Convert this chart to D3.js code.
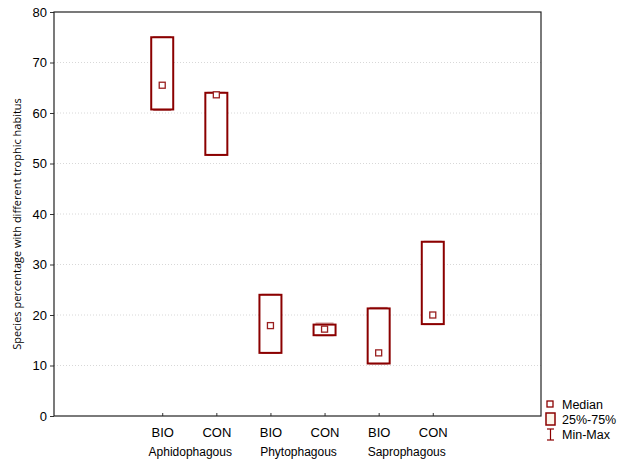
<!DOCTYPE html>
<html>
<head>
<meta charset="utf-8">
<script src="https://cdnjs.cloudflare.com/ajax/libs/d3/7.8.5/d3.min.js"></script>
<style>
  body { margin: 0; background: #fff; }
  svg { font-family: Arial, "Liberation Sans", sans-serif; }
</style>
</head>
<body>
<div id="chart"></div>
<script>
// data
const groups = ['Aphidophagous', 'Phytophagous', 'Saprophagous'];
const treatments = ['BIO', 'CON'];
const medians = [65.5, 63.6, 17.9, 17.2, 12.5, 20.0];
const q1 = [60.7, 51.7, 12.5, 16.0, 10.4, 18.2];
const q3 = [75.0, 64.0, 24.0, 18.1, 21.3, 34.5];
const mins = [60.5, 51.6, 12.4, 15.9, 10.3, 18.1];
const maxs = [75.1, 64.1, 24.1, 18.4, 21.5, 34.6];
const yTicks = [0, 10, 20, 30, 40, 50, 60, 70, 80];

const W = 628, H = 462;
const margin = { top: 12, right: 87, bottom: 46, left: 54 };
const width = W - margin.left - margin.right,
      height = H - margin.top - margin.bottom;

const dark = '#8b0000';

const svg = d3.select('#chart').append('svg')
    .attr('width', W).attr('height', H)
    .append('g')
    .attr('transform', 'translate(' + margin.left + ',' + margin.top + ')');

// 9 slots, the six boxes sit on slots 2..7
const x = d3.scaleLinear().domain([0, 9]).range([0, width]);
const y = d3.scaleLinear().domain([0, 80]).range([height, 0]);

const rows = [];
groups.forEach(function(g, gi) {
    treatments.forEach(function(t, ti) {
        const i = gi * 2 + ti;
        rows.push({ group: g, trt: t, pos: 2 + i, med: medians[i], lo: q1[i], hi: q3[i], min: mins[i], max: maxs[i] });
    });
});

// grid
svg.append('g')
    .selectAll('line')
    .data(yTicks.slice(1, -1))
    .join('line')
    .attr('x1', 0).attr('x2', width)
    .attr('y1', d => y(d)).attr('y2', d => y(d))
    .attr('stroke', '#d8d8d8')
    .attr('stroke-width', 1)
    .attr('stroke-dasharray', '1,2');

// y axis
const yAxis = svg.append('g')
    .call(d3.axisLeft(y).tickValues(yTicks).tickSize(4).tickPadding(3));
yAxis.select('.domain').remove();
yAxis.selectAll('text').style('font-size', '13px').style('font-family', 'Arial, "Liberation Sans", sans-serif').attr('fill', '#000');
yAxis.selectAll('line').attr('stroke', '#333');

// x axis, ticks inside
const xAxis = svg.append('g')
    .attr('transform', 'translate(0,' + height + ')')
    .call(d3.axisBottom(x).tickValues(rows.map(d => d.pos)).tickSize(-3).tickPadding(12)
        .tickFormat((d, i) => rows[i].trt));
xAxis.select('.domain').remove();
xAxis.selectAll('text').style('font-size', '13px').style('font-family', 'Arial, "Liberation Sans", sans-serif').attr('fill', '#000');
xAxis.selectAll('line').attr('stroke', '#333');

// group labels
svg.append('g')
    .selectAll('text')
    .data(groups)
    .join('text')
    .attr('x', (d, i) => x(2.5 + i * 2) + 1)
    .attr('y', height + 40)
    .attr('text-anchor', 'middle')
    .style('font-size', '12px')
    .text(d => d);

// frame
svg.append('rect')
    .attr('x', 0).attr('y', 0)
    .attr('width', width).attr('height', height)
    .attr('fill', 'none')
    .attr('stroke', '#222')
    .attr('stroke-width', 1.2);

// y title
svg.append('text')
    .attr('transform', 'translate(' + (-33) + ',' + (height / 2 + 10) + ') rotate(-90)')
    .attr('text-anchor', 'middle')
    .style('font-family', '"Open Sans", "DejaVu Sans", sans-serif')
    .style('font-size', '11px')
    .text('Species percentage with different trophic habitus');

const bw = 22;
const boxes = svg.append('g').selectAll('g').data(rows).join('g');

// min-max whiskers (almost coincide with the box)
boxes.append('line')
    .attr('x1', d => x(d.pos) - bw / 2 + 2).attr('x2', d => x(d.pos) + bw / 2 - 2)
    .attr('y1', d => y(d.max)).attr('y2', d => y(d.max))
    .attr('stroke', '#c08080').attr('stroke-width', 1);
boxes.append('line')
    .attr('x1', d => x(d.pos) - bw / 2 + 2).attr('x2', d => x(d.pos) + bw / 2 - 2)
    .attr('y1', d => y(d.min)).attr('y2', d => y(d.min))
    .attr('stroke', '#c08080').attr('stroke-width', 1);

// 25%-75% box
boxes.append('rect')
    .attr('x', d => x(d.pos) - bw / 2)
    .attr('y', d => y(d.hi))
    .attr('width', bw)
    .attr('height', d => y(d.lo) - y(d.hi))
    .attr('fill', '#fff')
    .attr('stroke', dark)
    .attr('stroke-width', 2);

// median
boxes.append('rect')
    .attr('x', d => x(d.pos) - 3)
    .attr('y', d => y(d.med) - 3)
    .attr('width', 6).attr('height', 6)
    .attr('fill', '#fff')
    .attr('stroke', '#9a2020')
    .attr('stroke-width', 1.3);

// legend
const lg = d3.select('svg').append('g').attr('transform', 'translate(547,0)');
lg.append('rect').attr('x', 0).attr('y', 401).attr('width', 6).attr('height', 6)
    .attr('fill', '#fff').attr('stroke', dark).attr('stroke-width', 1.3);
lg.append('rect').attr('x', -1).attr('y', 413).attr('width', 9).attr('height', 12)
    .attr('fill', '#fdf5ea').attr('stroke', dark).attr('stroke-width', 1.5);
lg.append('line').attr('x1', 3.5).attr('x2', 3.5).attr('y1', 429).attr('y2', 440).attr('stroke', dark).attr('stroke-width', 1.2);
lg.append('line').attr('x1', 0).attr('x2', 7).attr('y1', 429).attr('y2', 429).attr('stroke', dark).attr('stroke-width', 1.2);
lg.append('line').attr('x1', 0).attr('x2', 7).attr('y1', 440).attr('y2', 440).attr('stroke', dark).attr('stroke-width', 1.2);
lg.selectAll('text')
    .data(['Median', '25%-75%', 'Min-Max'])
    .join('text')
    .attr('x', 15)
    .attr('y', (d, i) => 409 + i * 15)
    .style('font-size', '12.5px')
    .text(d => d);
</script>
</body>
</html>
